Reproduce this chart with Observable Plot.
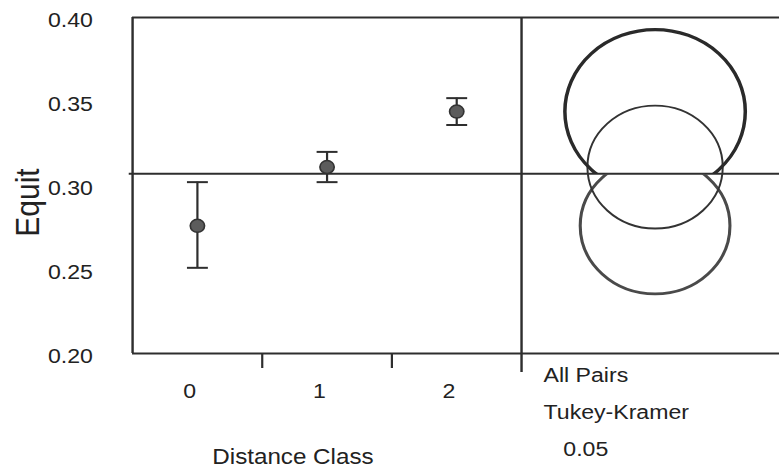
<!DOCTYPE html>
<html>
<head>
<meta charset="utf-8">
<script src="https://cdn.jsdelivr.net/npm/d3@7"></script>
<script src="https://cdn.jsdelivr.net/npm/@observablehq/plot@0.6"></script>
<style>
  html, body { margin: 0; padding: 0; background: #fff; }
  #chart svg { display: block; }
</style>
</head>
<body>
<div id="chart"></div>
<script>
// Equit by distance class: group means with interval bars, and Tukey-Kramer comparison circles
const classes = [0, 1, 2];
const means = [0.276, 0.311, 0.344];
const lower = [0.251, 0.302, 0.336];
const upper = [0.302, 0.320, 0.352];
const circleRadii = [0.0405, 0.0366, 0.0488];
const grandMean = 0.307;
const yTicks = [0.20, 0.25, 0.30, 0.35, 0.40];
const yLabel = "Equit";
const xLabel = "Distance Class";
const testLabels = ["All Pairs", "Tukey-Kramer", "0.05"];

const groups = classes.map((c, i) => ({
  cls: c, mean: means[i], lo: lower[i], hi: upper[i], radius: circleRadii[i]
}));

// layout: drawn on a 708-wide canvas, then widened to 779 px on screen
const W = 708, H = 468, outW = 779;
const marginTop = 17, marginBottom = 115, marginLeft = 120, marginRight = 0;
const yDomain = [0.20, 0.40];
const xDomain = [-0.5, 4.49];
const panelSplit = 2.5;        // divider between means panel and circles panel
const bandEdges = [0.5, 1.5];  // tick marks between classes
const circleX = 3.53;          // horizontal centre of the comparison circles
const pxPerUnit = (H - marginTop - marginBottom) / (yDomain[1] - yDomain[0]);

const ink = "#2e2e2e";
const circleStroke = {0: 2.8, 1: 1.8, 2: 3.2};
const circleColor = {0: "#4a4a4a", 1: "#333", 2: "#2a2a2a"};
// which side of the overall-mean line each circle is kept on
const circleSide = {0: "below", 1: "all", 2: "above"};

// short horizontal stroke used for the caps of the interval bars
const capSymbol = {
  draw(context) {
    context.moveTo(-9.5, 0);
    context.lineTo(9.5, 0);
  }
};

const font = "'Liberation Sans', Arial, Helvetica, sans-serif";

const marks = [
  // frame: top and bottom edges run across both panels
  Plot.ruleY([yDomain[1], yDomain[0]], {stroke: ink, strokeWidth: 2.2}),
  Plot.ruleX([xDomain[0]], {y1: yDomain[1], y2: yDomain[0], stroke: ink, strokeWidth: 2.2}),
  Plot.ruleX([panelSplit], {y1: yDomain[1], y2: yDomain[0], insetBottom: -19, stroke: ink, strokeWidth: 2.2}),
  Plot.ruleX(bandEdges, {y1: yDomain[0], y2: yDomain[0], insetBottom: -15, stroke: ink, strokeWidth: 2}),
  // overall mean
  Plot.ruleY([grandMean], {insetLeft: -3, stroke: ink, strokeWidth: 2}),
  // interval bars
  Plot.ruleX(groups, {x: "cls", y1: "hi", y2: "lo", stroke: ink, strokeWidth: 2}),
  Plot.dot(groups, {x: "cls", y: "hi", symbol: capSymbol, r: 1, fill: "none", stroke: ink, strokeWidth: 2}),
  Plot.dot(groups, {x: "cls", y: "lo", symbol: capSymbol, r: 1, fill: "none", stroke: ink, strokeWidth: 2}),
  // group means
  Plot.dot(groups, {x: "cls", y: "mean", r: 6.5, fill: "#5c5c5c", stroke: "#333", strokeWidth: 1.5}),
  // comparison circles
  ...groups.map(g => Plot.dot([g], {
    x: () => circleX, y: "mean", r: d => d.radius * pxPerUnit,
    fill: "none", stroke: circleColor[g.cls], strokeWidth: circleStroke[g.cls],
    ariaDescription: "circle-" + circleSide[g.cls]
  })),
  // category labels and axis titles
  Plot.text(classes, {x: d => d, text: d => String(d), frameAnchor: "bottom", lineAnchor: "bottom", dx: -7, dy: 44, fontSize: 21, fill: "#222"}),
  Plot.text([xLabel], {x: () => 1, text: d => d, frameAnchor: "bottom", lineAnchor: "bottom", dx: -31, dy: 110, fontSize: 22, fill: "#222"}),
  Plot.text([yLabel], {text: d => d, frameAnchor: "left", textAnchor: "middle", rotate: -90, dx: -95, dy: 17, fontSize: 30, fill: "#222"}),
  // test description under the circles panel
  Plot.text([testLabels[0]], {x: () => panelSplit, text: d => d, frameAnchor: "bottom", textAnchor: "start", lineAnchor: "bottom", dx: 20, dy: 28, fontSize: 21, fill: "#222"}),
  Plot.text([testLabels[1]], {x: () => panelSplit, text: d => d, frameAnchor: "bottom", textAnchor: "start", lineAnchor: "bottom", dx: 20, dy: 65.5, fontSize: 21, fill: "#222"}),
  Plot.text([testLabels[2]], {x: () => panelSplit, text: d => d, frameAnchor: "bottom", textAnchor: "start", lineAnchor: "bottom", dx: 38, dy: 102, fontSize: 21, fill: "#222"})
];

if (Plot.axisY) {
  marks.unshift(Plot.axisY(yTicks, {tickSize: 0, tickPadding: 36, tickFormat: d3.format(".2f"), dy: 3, fontSize: 21, label: null, fill: "#222"}));
}

const chart = Plot.plot({
  width: W,
  height: H,
  marginTop, marginBottom, marginLeft, marginRight,
  style: {fontFamily: font, fontSize: "21px", background: "#fff", color: "#222"},
  x: {domain: xDomain, axis: null},
  y: Plot.axisY
    ? {domain: yDomain, axis: null}
    : {domain: yDomain, ticks: yTicks, tickFormat: ".2f", tickSize: 0, tickPadding: 36, label: null},
  r: {type: "identity"},
  marks
});

// keep the outer circles on their own side of the overall-mean line
const svg = d3.select(chart);
const yMeanPx = chart.scale("y").apply(grandMean);
const defs = svg.insert("defs", ":first-child");
defs.append("clipPath").attr("id", "clip-above")
  .append("rect").attr("x", 0).attr("y", 0).attr("width", W).attr("height", yMeanPx);
defs.append("clipPath").attr("id", "clip-below")
  .append("rect").attr("x", 0).attr("y", yMeanPx).attr("width", W).attr("height", H - yMeanPx);
svg.selectAll('g[aria-description="circle-above"]').attr("clip-path", "url(#clip-above)");
svg.selectAll('g[aria-description="circle-below"]').attr("clip-path", "url(#clip-below)");

// widen the drawing to the final page width
chart.setAttribute("width", outW);
chart.setAttribute("preserveAspectRatio", "none");
chart.style.width = outW + "px";
chart.style.height = H + "px";
chart.style.maxWidth = "none";

document.getElementById("chart").appendChild(chart);
</script>
</body>
</html>
